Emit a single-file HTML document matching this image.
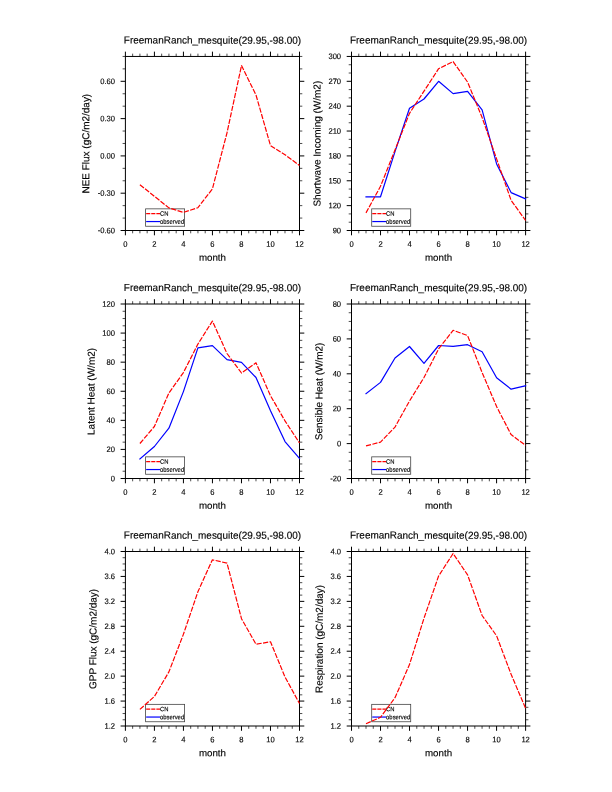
<!DOCTYPE html>
<html lang="en"><head><meta charset="utf-8"><title>FreemanRanch_mesquite</title>
<style>html,body{margin:0;padding:0;background:#fff}svg{display:block}text{font-family:"Liberation Sans",sans-serif;fill:#000;stroke:#000;stroke-width:.14px;text-rendering:geometricPrecision}.t{font-size:10.2px;text-anchor:middle}.x{font-size:10.0px;text-anchor:middle}.m{font-size:9.7px;text-anchor:middle}.k{font-size:7.9px}.l{font-size:6.3px}.fr{fill:none;stroke:#000;stroke-width:1}.mj{stroke:#000;stroke-width:1}.mn{stroke:#000;stroke-width:.7}.r{fill:none;stroke:#ff0000;stroke-width:1.2;stroke-dasharray:5.2 1.4;stroke-linejoin:round}.b{fill:none;stroke:#0000ff;stroke-width:1.2;stroke-linejoin:round;stroke-linecap:square}</style></head><body>
<svg width="612" height="792" viewBox="0 0 612 792">
<rect width="612" height="792" fill="#fff"/>
<g>
<text class="t" transform="translate(212.45 43.65) rotate(.1) scale(0.978 1)">FreemanRanch_mesquite(29.95,-98.00)</text>
<rect x="145.60" y="208.85" width="39.0" height="17.4" fill="#fff" stroke="#444" stroke-width=".8"/>
<path class="r" style="stroke-dasharray:4.1 1" d="M146.15 213.70h13.9"/>
<path class="b" d="M146.75 221.55h12.7"/>
<text class="l" transform="translate(160.00 215.80) rotate(.1) scale(0.932 1)">CN</text>
<text class="l" transform="translate(160.00 223.75) rotate(.1) scale(0.932 1)">observed</text>
<rect class="fr" x="125.40" y="56.45" width="174.10" height="174.05"/>
<path class="mj" d="M125.40 230.50v4.8M125.40 56.45v-4.8M154.42 230.50v4.8M154.42 56.45v-4.8M183.43 230.50v4.8M183.43 56.45v-4.8M212.45 230.50v4.8M212.45 56.45v-4.8M241.47 230.50v4.8M241.47 56.45v-4.8M270.48 230.50v4.8M270.48 56.45v-4.8M299.50 230.50v4.8M299.50 56.45v-4.8M125.40 230.50h-4.8M299.50 230.50h4.8M125.40 193.20h-4.8M299.50 193.20h4.8M125.40 155.91h-4.8M299.50 155.91h4.8M125.40 118.61h-4.8M299.50 118.61h4.8M125.40 81.31h-4.8M299.50 81.31h4.8"/>
<path class="mn" d="M132.65 230.50v2.8M132.65 56.45v-2.8M139.91 230.50v2.8M139.91 56.45v-2.8M147.16 230.50v2.8M147.16 56.45v-2.8M161.67 230.50v2.8M161.67 56.45v-2.8M168.93 230.50v2.8M168.93 56.45v-2.8M176.18 230.50v2.8M176.18 56.45v-2.8M190.69 230.50v2.8M190.69 56.45v-2.8M197.94 230.50v2.8M197.94 56.45v-2.8M205.20 230.50v2.8M205.20 56.45v-2.8M219.70 230.50v2.8M219.70 56.45v-2.8M226.96 230.50v2.8M226.96 56.45v-2.8M234.21 230.50v2.8M234.21 56.45v-2.8M248.72 230.50v2.8M248.72 56.45v-2.8M255.97 230.50v2.8M255.97 56.45v-2.8M263.23 230.50v2.8M263.23 56.45v-2.8M277.74 230.50v2.8M277.74 56.45v-2.8M284.99 230.50v2.8M284.99 56.45v-2.8M292.25 230.50v2.8M292.25 56.45v-2.8M125.40 218.07h-2.8M299.50 218.07h2.8M125.40 205.64h-2.8M299.50 205.64h2.8M125.40 180.77h-2.8M299.50 180.77h2.8M125.40 168.34h-2.8M299.50 168.34h2.8M125.40 143.47h-2.8M299.50 143.47h2.8M125.40 131.04h-2.8M299.50 131.04h2.8M125.40 106.18h-2.8M299.50 106.18h2.8M125.40 93.75h-2.8M299.50 93.75h2.8M125.40 68.88h-2.8M299.50 68.88h2.8M125.40 56.45h-2.8M299.50 56.45h2.8"/>
<g class="k" text-anchor="end">
<text transform="translate(115.00 233.15) rotate(.1) scale(0.962 1)">-0.60</text>
<text transform="translate(115.00 195.85) rotate(.1) scale(0.962 1)">-0.30</text>
<text transform="translate(115.00 158.56) rotate(.1) scale(0.962 1)">0.00</text>
<text transform="translate(115.00 121.26) rotate(.1) scale(0.962 1)">0.30</text>
<text transform="translate(115.00 83.96) rotate(.1) scale(0.962 1)">0.60</text>
</g>
<g class="k" text-anchor="middle">
<text transform="translate(125.40 246.70) rotate(.1) scale(0.962 1)">0</text>
<text transform="translate(154.42 246.70) rotate(.1) scale(0.962 1)">2</text>
<text transform="translate(183.43 246.70) rotate(.1) scale(0.962 1)">4</text>
<text transform="translate(212.45 246.70) rotate(.1) scale(0.962 1)">6</text>
<text transform="translate(241.47 246.70) rotate(.1) scale(0.962 1)">8</text>
<text transform="translate(270.48 246.70) rotate(.1) scale(0.962 1)">10</text>
<text transform="translate(299.50 246.70) rotate(.1) scale(0.962 1)">12</text>
</g>
<text class="m" transform="translate(212.45 260.85) rotate(.1) scale(1.005 1)">month</text>
<text class="x" transform="translate(89.30 143.67) rotate(-89.9) scale(0.997 1)">NEE Flux (gC/m2/day)</text>
<path class="r" d="M139.9 184.7L154.4 196.3L168.9 207.9L183.4 212.4L197.9 207.7L212.4 188.9L227.0 132.8L241.5 65.6L256.0 95.0L270.5 145.6L285.0 154.7L299.5 165.5"/>
</g>
<g>
<text class="t" transform="translate(438.55 43.65) rotate(.1) scale(0.978 1)">FreemanRanch_mesquite(29.95,-98.00)</text>
<rect x="371.70" y="208.85" width="39.0" height="17.4" fill="#fff" stroke="#444" stroke-width=".8"/>
<path class="r" style="stroke-dasharray:4.1 1" d="M372.25 213.70h13.9"/>
<path class="b" d="M372.85 221.55h12.7"/>
<text class="l" transform="translate(386.10 215.80) rotate(.1) scale(0.932 1)">CN</text>
<text class="l" transform="translate(386.10 223.75) rotate(.1) scale(0.932 1)">observed</text>
<rect class="fr" x="351.50" y="56.45" width="174.10" height="174.05"/>
<path class="mj" d="M351.50 230.50v4.8M351.50 56.45v-4.8M380.52 230.50v4.8M380.52 56.45v-4.8M409.53 230.50v4.8M409.53 56.45v-4.8M438.55 230.50v4.8M438.55 56.45v-4.8M467.57 230.50v4.8M467.57 56.45v-4.8M496.58 230.50v4.8M496.58 56.45v-4.8M525.60 230.50v4.8M525.60 56.45v-4.8M351.50 230.50h-4.8M525.60 230.50h4.8M351.50 205.64h-4.8M525.60 205.64h4.8M351.50 180.77h-4.8M525.60 180.77h4.8M351.50 155.91h-4.8M525.60 155.91h4.8M351.50 131.04h-4.8M525.60 131.04h4.8M351.50 106.18h-4.8M525.60 106.18h4.8M351.50 81.31h-4.8M525.60 81.31h4.8M351.50 56.45h-4.8M525.60 56.45h4.8"/>
<path class="mn" d="M358.75 230.50v2.8M358.75 56.45v-2.8M366.01 230.50v2.8M366.01 56.45v-2.8M373.26 230.50v2.8M373.26 56.45v-2.8M387.77 230.50v2.8M387.77 56.45v-2.8M395.02 230.50v2.8M395.02 56.45v-2.8M402.28 230.50v2.8M402.28 56.45v-2.8M416.79 230.50v2.8M416.79 56.45v-2.8M424.04 230.50v2.8M424.04 56.45v-2.8M431.30 230.50v2.8M431.30 56.45v-2.8M445.80 230.50v2.8M445.80 56.45v-2.8M453.06 230.50v2.8M453.06 56.45v-2.8M460.31 230.50v2.8M460.31 56.45v-2.8M474.82 230.50v2.8M474.82 56.45v-2.8M482.07 230.50v2.8M482.07 56.45v-2.8M489.33 230.50v2.8M489.33 56.45v-2.8M503.84 230.50v2.8M503.84 56.45v-2.8M511.09 230.50v2.8M511.09 56.45v-2.8M518.35 230.50v2.8M518.35 56.45v-2.8M351.50 222.21h-2.8M525.60 222.21h2.8M351.50 213.92h-2.8M525.60 213.92h2.8M351.50 197.35h-2.8M525.60 197.35h2.8M351.50 189.06h-2.8M525.60 189.06h2.8M351.50 172.48h-2.8M525.60 172.48h2.8M351.50 164.20h-2.8M525.60 164.20h2.8M351.50 147.62h-2.8M525.60 147.62h2.8M351.50 139.33h-2.8M525.60 139.33h2.8M351.50 122.75h-2.8M525.60 122.75h2.8M351.50 114.47h-2.8M525.60 114.47h2.8M351.50 97.89h-2.8M525.60 97.89h2.8M351.50 89.60h-2.8M525.60 89.60h2.8M351.50 73.03h-2.8M525.60 73.03h2.8M351.50 64.74h-2.8M525.60 64.74h2.8"/>
<g class="k" text-anchor="end">
<text transform="translate(341.10 233.15) rotate(.1) scale(0.962 1)">90</text>
<text transform="translate(341.10 208.29) rotate(.1) scale(0.962 1)">120</text>
<text transform="translate(341.10 183.42) rotate(.1) scale(0.962 1)">150</text>
<text transform="translate(341.10 158.56) rotate(.1) scale(0.962 1)">180</text>
<text transform="translate(341.10 133.69) rotate(.1) scale(0.962 1)">210</text>
<text transform="translate(341.10 108.83) rotate(.1) scale(0.962 1)">240</text>
<text transform="translate(341.10 83.96) rotate(.1) scale(0.962 1)">270</text>
<text transform="translate(341.10 59.10) rotate(.1) scale(0.962 1)">300</text>
</g>
<g class="k" text-anchor="middle">
<text transform="translate(351.50 246.70) rotate(.1) scale(0.962 1)">0</text>
<text transform="translate(380.52 246.70) rotate(.1) scale(0.962 1)">2</text>
<text transform="translate(409.53 246.70) rotate(.1) scale(0.962 1)">4</text>
<text transform="translate(438.55 246.70) rotate(.1) scale(0.962 1)">6</text>
<text transform="translate(467.57 246.70) rotate(.1) scale(0.962 1)">8</text>
<text transform="translate(496.58 246.70) rotate(.1) scale(0.962 1)">10</text>
<text transform="translate(525.60 246.70) rotate(.1) scale(0.962 1)">12</text>
</g>
<text class="m" transform="translate(438.55 260.85) rotate(.1) scale(1.005 1)">month</text>
<text class="x" transform="translate(320.50 143.67) rotate(-89.9) scale(0.997 1)">Shortwave Incoming (W/m2)</text>
<path class="b" d="M366.0 196.8L380.5 196.8L395.0 151.6L409.5 108.3L424.0 99.0L438.6 81.3L453.1 93.6L467.6 91.4L482.1 109.8L496.6 163.9L511.1 192.6L525.6 198.9"/>
<path class="r" d="M366.0 212.9L380.5 186.3L395.0 150.0L409.5 113.3L424.0 91.2L438.6 68.7L453.1 61.6L467.6 82.1L482.1 117.5L496.6 158.9L511.1 200.3L525.6 220.5"/>
</g>
<g>
<text class="t" transform="translate(212.45 291.20) rotate(.1) scale(0.978 1)">FreemanRanch_mesquite(29.95,-98.00)</text>
<rect x="145.60" y="456.85" width="39.0" height="17.4" fill="#fff" stroke="#444" stroke-width=".8"/>
<path class="r" style="stroke-dasharray:4.1 1" d="M146.15 461.70h13.9"/>
<path class="b" d="M146.75 469.55h12.7"/>
<text class="l" transform="translate(160.00 463.80) rotate(.1) scale(0.932 1)">CN</text>
<text class="l" transform="translate(160.00 471.75) rotate(.1) scale(0.932 1)">observed</text>
<rect class="fr" x="125.40" y="304.00" width="174.10" height="174.50"/>
<path class="mj" d="M125.40 478.50v4.8M125.40 304.00v-4.8M154.42 478.50v4.8M154.42 304.00v-4.8M183.43 478.50v4.8M183.43 304.00v-4.8M212.45 478.50v4.8M212.45 304.00v-4.8M241.47 478.50v4.8M241.47 304.00v-4.8M270.48 478.50v4.8M270.48 304.00v-4.8M299.50 478.50v4.8M299.50 304.00v-4.8M125.40 478.50h-4.8M299.50 478.50h4.8M125.40 449.42h-4.8M299.50 449.42h4.8M125.40 420.33h-4.8M299.50 420.33h4.8M125.40 391.25h-4.8M299.50 391.25h4.8M125.40 362.17h-4.8M299.50 362.17h4.8M125.40 333.08h-4.8M299.50 333.08h4.8M125.40 304.00h-4.8M299.50 304.00h4.8"/>
<path class="mn" d="M132.65 478.50v2.8M132.65 304.00v-2.8M139.91 478.50v2.8M139.91 304.00v-2.8M147.16 478.50v2.8M147.16 304.00v-2.8M161.67 478.50v2.8M161.67 304.00v-2.8M168.93 478.50v2.8M168.93 304.00v-2.8M176.18 478.50v2.8M176.18 304.00v-2.8M190.69 478.50v2.8M190.69 304.00v-2.8M197.94 478.50v2.8M197.94 304.00v-2.8M205.20 478.50v2.8M205.20 304.00v-2.8M219.70 478.50v2.8M219.70 304.00v-2.8M226.96 478.50v2.8M226.96 304.00v-2.8M234.21 478.50v2.8M234.21 304.00v-2.8M248.72 478.50v2.8M248.72 304.00v-2.8M255.97 478.50v2.8M255.97 304.00v-2.8M263.23 478.50v2.8M263.23 304.00v-2.8M277.74 478.50v2.8M277.74 304.00v-2.8M284.99 478.50v2.8M284.99 304.00v-2.8M292.25 478.50v2.8M292.25 304.00v-2.8M125.40 471.23h-2.8M299.50 471.23h2.8M125.40 463.96h-2.8M299.50 463.96h2.8M125.40 456.69h-2.8M299.50 456.69h2.8M125.40 442.15h-2.8M299.50 442.15h2.8M125.40 434.88h-2.8M299.50 434.88h2.8M125.40 427.60h-2.8M299.50 427.60h2.8M125.40 413.06h-2.8M299.50 413.06h2.8M125.40 405.79h-2.8M299.50 405.79h2.8M125.40 398.52h-2.8M299.50 398.52h2.8M125.40 383.98h-2.8M299.50 383.98h2.8M125.40 376.71h-2.8M299.50 376.71h2.8M125.40 369.44h-2.8M299.50 369.44h2.8M125.40 354.90h-2.8M299.50 354.90h2.8M125.40 347.62h-2.8M299.50 347.62h2.8M125.40 340.35h-2.8M299.50 340.35h2.8M125.40 325.81h-2.8M299.50 325.81h2.8M125.40 318.54h-2.8M299.50 318.54h2.8M125.40 311.27h-2.8M299.50 311.27h2.8"/>
<g class="k" text-anchor="end">
<text transform="translate(115.00 481.15) rotate(.1) scale(0.962 1)">0</text>
<text transform="translate(115.00 452.07) rotate(.1) scale(0.962 1)">20</text>
<text transform="translate(115.00 422.98) rotate(.1) scale(0.962 1)">40</text>
<text transform="translate(115.00 393.90) rotate(.1) scale(0.962 1)">60</text>
<text transform="translate(115.00 364.82) rotate(.1) scale(0.962 1)">80</text>
<text transform="translate(115.00 335.73) rotate(.1) scale(0.962 1)">100</text>
<text transform="translate(115.00 306.65) rotate(.1) scale(0.962 1)">120</text>
</g>
<g class="k" text-anchor="middle">
<text transform="translate(125.40 494.70) rotate(.1) scale(0.962 1)">0</text>
<text transform="translate(154.42 494.70) rotate(.1) scale(0.962 1)">2</text>
<text transform="translate(183.43 494.70) rotate(.1) scale(0.962 1)">4</text>
<text transform="translate(212.45 494.70) rotate(.1) scale(0.962 1)">6</text>
<text transform="translate(241.47 494.70) rotate(.1) scale(0.962 1)">8</text>
<text transform="translate(270.48 494.70) rotate(.1) scale(0.962 1)">10</text>
<text transform="translate(299.50 494.70) rotate(.1) scale(0.962 1)">12</text>
</g>
<text class="m" transform="translate(212.45 508.85) rotate(.1) scale(1.005 1)">month</text>
<text class="x" transform="translate(94.60 391.45) rotate(-89.9) scale(0.997 1)">Latent Heat (W/m2)</text>
<path class="b" d="M139.9 459.0L154.4 446.5L168.9 428.2L183.4 391.6L197.9 347.9L212.4 345.6L227.0 359.6L241.5 362.3L256.0 377.5L270.5 410.7L285.0 441.6L299.5 458.4"/>
<path class="r" d="M139.9 443.5L154.4 426.5L168.9 393.0L183.4 372.6L197.9 344.1L212.4 321.1L227.0 353.5L241.5 373.0L256.0 362.8L270.5 395.7L285.0 420.9L299.5 443.0"/>
</g>
<g>
<text class="t" transform="translate(438.55 291.20) rotate(.1) scale(0.978 1)">FreemanRanch_mesquite(29.95,-98.00)</text>
<rect x="371.70" y="456.85" width="39.0" height="17.4" fill="#fff" stroke="#444" stroke-width=".8"/>
<path class="r" style="stroke-dasharray:4.1 1" d="M372.25 461.70h13.9"/>
<path class="b" d="M372.85 469.55h12.7"/>
<text class="l" transform="translate(386.10 463.80) rotate(.1) scale(0.932 1)">CN</text>
<text class="l" transform="translate(386.10 471.75) rotate(.1) scale(0.932 1)">observed</text>
<rect class="fr" x="351.50" y="304.00" width="174.10" height="174.50"/>
<path class="mj" d="M351.50 478.50v4.8M351.50 304.00v-4.8M380.52 478.50v4.8M380.52 304.00v-4.8M409.53 478.50v4.8M409.53 304.00v-4.8M438.55 478.50v4.8M438.55 304.00v-4.8M467.57 478.50v4.8M467.57 304.00v-4.8M496.58 478.50v4.8M496.58 304.00v-4.8M525.60 478.50v4.8M525.60 304.00v-4.8M351.50 478.50h-4.8M525.60 478.50h4.8M351.50 443.60h-4.8M525.60 443.60h4.8M351.50 408.70h-4.8M525.60 408.70h4.8M351.50 373.80h-4.8M525.60 373.80h4.8M351.50 338.90h-4.8M525.60 338.90h4.8M351.50 304.00h-4.8M525.60 304.00h4.8"/>
<path class="mn" d="M358.75 478.50v2.8M358.75 304.00v-2.8M366.01 478.50v2.8M366.01 304.00v-2.8M373.26 478.50v2.8M373.26 304.00v-2.8M387.77 478.50v2.8M387.77 304.00v-2.8M395.02 478.50v2.8M395.02 304.00v-2.8M402.28 478.50v2.8M402.28 304.00v-2.8M416.79 478.50v2.8M416.79 304.00v-2.8M424.04 478.50v2.8M424.04 304.00v-2.8M431.30 478.50v2.8M431.30 304.00v-2.8M445.80 478.50v2.8M445.80 304.00v-2.8M453.06 478.50v2.8M453.06 304.00v-2.8M460.31 478.50v2.8M460.31 304.00v-2.8M474.82 478.50v2.8M474.82 304.00v-2.8M482.07 478.50v2.8M482.07 304.00v-2.8M489.33 478.50v2.8M489.33 304.00v-2.8M503.84 478.50v2.8M503.84 304.00v-2.8M511.09 478.50v2.8M511.09 304.00v-2.8M518.35 478.50v2.8M518.35 304.00v-2.8M351.50 469.77h-2.8M525.60 469.77h2.8M351.50 461.05h-2.8M525.60 461.05h2.8M351.50 452.32h-2.8M525.60 452.32h2.8M351.50 434.88h-2.8M525.60 434.88h2.8M351.50 426.15h-2.8M525.60 426.15h2.8M351.50 417.43h-2.8M525.60 417.43h2.8M351.50 399.98h-2.8M525.60 399.98h2.8M351.50 391.25h-2.8M525.60 391.25h2.8M351.50 382.52h-2.8M525.60 382.52h2.8M351.50 365.07h-2.8M525.60 365.07h2.8M351.50 356.35h-2.8M525.60 356.35h2.8M351.50 347.62h-2.8M525.60 347.62h2.8M351.50 330.18h-2.8M525.60 330.18h2.8M351.50 321.45h-2.8M525.60 321.45h2.8M351.50 312.73h-2.8M525.60 312.73h2.8"/>
<g class="k" text-anchor="end">
<text transform="translate(341.10 481.15) rotate(.1) scale(0.962 1)">-20</text>
<text transform="translate(341.10 446.25) rotate(.1) scale(0.962 1)">0</text>
<text transform="translate(341.10 411.35) rotate(.1) scale(0.962 1)">20</text>
<text transform="translate(341.10 376.45) rotate(.1) scale(0.962 1)">40</text>
<text transform="translate(341.10 341.55) rotate(.1) scale(0.962 1)">60</text>
<text transform="translate(341.10 306.65) rotate(.1) scale(0.962 1)">80</text>
</g>
<g class="k" text-anchor="middle">
<text transform="translate(351.50 494.70) rotate(.1) scale(0.962 1)">0</text>
<text transform="translate(380.52 494.70) rotate(.1) scale(0.962 1)">2</text>
<text transform="translate(409.53 494.70) rotate(.1) scale(0.962 1)">4</text>
<text transform="translate(438.55 494.70) rotate(.1) scale(0.962 1)">6</text>
<text transform="translate(467.57 494.70) rotate(.1) scale(0.962 1)">8</text>
<text transform="translate(496.58 494.70) rotate(.1) scale(0.962 1)">10</text>
<text transform="translate(525.60 494.70) rotate(.1) scale(0.962 1)">12</text>
</g>
<text class="m" transform="translate(438.55 508.85) rotate(.1) scale(1.005 1)">month</text>
<text class="x" transform="translate(322.40 391.45) rotate(-89.9) scale(0.997 1)">Sensible Heat (W/m2)</text>
<path class="b" d="M366.0 393.7L380.5 382.4L395.0 358.0L409.5 346.5L424.0 363.3L438.6 345.5L453.1 346.4L467.6 344.7L482.1 351.7L496.6 377.8L511.1 389.2L525.6 385.8"/>
<path class="r" d="M366.0 445.9L380.5 442.1L395.0 427.1L409.5 401.0L424.0 377.5L438.6 348.9L453.1 330.3L467.6 335.6L482.1 372.5L496.6 406.6L511.1 434.6L525.6 445.4"/>
</g>
<g>
<text class="t" transform="translate(212.45 538.70) rotate(.1) scale(0.978 1)">FreemanRanch_mesquite(29.95,-98.00)</text>
<rect x="145.60" y="704.35" width="39.0" height="17.4" fill="#fff" stroke="#444" stroke-width=".8"/>
<path class="r" style="stroke-dasharray:4.1 1" d="M146.15 709.20h13.9"/>
<path class="b" d="M146.75 717.05h12.7"/>
<text class="l" transform="translate(160.00 711.30) rotate(.1) scale(0.932 1)">CN</text>
<text class="l" transform="translate(160.00 719.25) rotate(.1) scale(0.932 1)">observed</text>
<rect class="fr" x="125.40" y="551.50" width="174.10" height="174.50"/>
<path class="mj" d="M125.40 726.00v4.8M125.40 551.50v-4.8M154.42 726.00v4.8M154.42 551.50v-4.8M183.43 726.00v4.8M183.43 551.50v-4.8M212.45 726.00v4.8M212.45 551.50v-4.8M241.47 726.00v4.8M241.47 551.50v-4.8M270.48 726.00v4.8M270.48 551.50v-4.8M299.50 726.00v4.8M299.50 551.50v-4.8M125.40 726.00h-4.8M299.50 726.00h4.8M125.40 701.07h-4.8M299.50 701.07h4.8M125.40 676.14h-4.8M299.50 676.14h4.8M125.40 651.21h-4.8M299.50 651.21h4.8M125.40 626.29h-4.8M299.50 626.29h4.8M125.40 601.36h-4.8M299.50 601.36h4.8M125.40 576.43h-4.8M299.50 576.43h4.8M125.40 551.50h-4.8M299.50 551.50h4.8"/>
<path class="mn" d="M132.65 726.00v2.8M132.65 551.50v-2.8M139.91 726.00v2.8M139.91 551.50v-2.8M147.16 726.00v2.8M147.16 551.50v-2.8M161.67 726.00v2.8M161.67 551.50v-2.8M168.93 726.00v2.8M168.93 551.50v-2.8M176.18 726.00v2.8M176.18 551.50v-2.8M190.69 726.00v2.8M190.69 551.50v-2.8M197.94 726.00v2.8M197.94 551.50v-2.8M205.20 726.00v2.8M205.20 551.50v-2.8M219.70 726.00v2.8M219.70 551.50v-2.8M226.96 726.00v2.8M226.96 551.50v-2.8M234.21 726.00v2.8M234.21 551.50v-2.8M248.72 726.00v2.8M248.72 551.50v-2.8M255.97 726.00v2.8M255.97 551.50v-2.8M263.23 726.00v2.8M263.23 551.50v-2.8M277.74 726.00v2.8M277.74 551.50v-2.8M284.99 726.00v2.8M284.99 551.50v-2.8M292.25 726.00v2.8M292.25 551.50v-2.8M125.40 719.77h-2.8M299.50 719.77h2.8M125.40 713.54h-2.8M299.50 713.54h2.8M125.40 707.30h-2.8M299.50 707.30h2.8M125.40 694.84h-2.8M299.50 694.84h2.8M125.40 688.61h-2.8M299.50 688.61h2.8M125.40 682.38h-2.8M299.50 682.38h2.8M125.40 669.91h-2.8M299.50 669.91h2.8M125.40 663.68h-2.8M299.50 663.68h2.8M125.40 657.45h-2.8M299.50 657.45h2.8M125.40 644.98h-2.8M299.50 644.98h2.8M125.40 638.75h-2.8M299.50 638.75h2.8M125.40 632.52h-2.8M299.50 632.52h2.8M125.40 620.05h-2.8M299.50 620.05h2.8M125.40 613.82h-2.8M299.50 613.82h2.8M125.40 607.59h-2.8M299.50 607.59h2.8M125.40 595.12h-2.8M299.50 595.12h2.8M125.40 588.89h-2.8M299.50 588.89h2.8M125.40 582.66h-2.8M299.50 582.66h2.8M125.40 570.20h-2.8M299.50 570.20h2.8M125.40 563.96h-2.8M299.50 563.96h2.8M125.40 557.73h-2.8M299.50 557.73h2.8"/>
<g class="k" text-anchor="end">
<text transform="translate(115.00 728.65) rotate(.1) scale(0.962 1)">1.2</text>
<text transform="translate(115.00 703.72) rotate(.1) scale(0.962 1)">1.6</text>
<text transform="translate(115.00 678.79) rotate(.1) scale(0.962 1)">2.0</text>
<text transform="translate(115.00 653.86) rotate(.1) scale(0.962 1)">2.4</text>
<text transform="translate(115.00 628.94) rotate(.1) scale(0.962 1)">2.8</text>
<text transform="translate(115.00 604.01) rotate(.1) scale(0.962 1)">3.2</text>
<text transform="translate(115.00 579.08) rotate(.1) scale(0.962 1)">3.6</text>
<text transform="translate(115.00 554.15) rotate(.1) scale(0.962 1)">4.0</text>
</g>
<g class="k" text-anchor="middle">
<text transform="translate(125.40 742.20) rotate(.1) scale(0.962 1)">0</text>
<text transform="translate(154.42 742.20) rotate(.1) scale(0.962 1)">2</text>
<text transform="translate(183.43 742.20) rotate(.1) scale(0.962 1)">4</text>
<text transform="translate(212.45 742.20) rotate(.1) scale(0.962 1)">6</text>
<text transform="translate(241.47 742.20) rotate(.1) scale(0.962 1)">8</text>
<text transform="translate(270.48 742.20) rotate(.1) scale(0.962 1)">10</text>
<text transform="translate(299.50 742.20) rotate(.1) scale(0.962 1)">12</text>
</g>
<text class="m" transform="translate(212.45 756.35) rotate(.1) scale(1.005 1)">month</text>
<text class="x" transform="translate(96.40 638.95) rotate(-89.9) scale(0.997 1)">GPP Flux (gC/m2/day)</text>
<path class="r" d="M139.9 709.4L154.4 696.5L168.9 671.9L183.4 634.3L197.9 591.8L212.4 559.8L227.0 563.1L241.5 618.7L256.0 644.2L270.5 641.8L285.0 677.0L299.5 703.5"/>
</g>
<g>
<text class="t" transform="translate(438.55 538.70) rotate(.1) scale(0.978 1)">FreemanRanch_mesquite(29.95,-98.00)</text>
<rect x="371.70" y="704.35" width="39.0" height="17.4" fill="#fff" stroke="#444" stroke-width=".8"/>
<path class="r" style="stroke-dasharray:4.1 1" d="M372.25 709.20h13.9"/>
<path class="b" d="M372.85 717.05h12.7"/>
<text class="l" transform="translate(386.10 711.30) rotate(.1) scale(0.932 1)">CN</text>
<text class="l" transform="translate(386.10 719.25) rotate(.1) scale(0.932 1)">observed</text>
<rect class="fr" x="351.50" y="551.50" width="174.10" height="174.50"/>
<path class="mj" d="M351.50 726.00v4.8M351.50 551.50v-4.8M380.52 726.00v4.8M380.52 551.50v-4.8M409.53 726.00v4.8M409.53 551.50v-4.8M438.55 726.00v4.8M438.55 551.50v-4.8M467.57 726.00v4.8M467.57 551.50v-4.8M496.58 726.00v4.8M496.58 551.50v-4.8M525.60 726.00v4.8M525.60 551.50v-4.8M351.50 726.00h-4.8M525.60 726.00h4.8M351.50 701.07h-4.8M525.60 701.07h4.8M351.50 676.14h-4.8M525.60 676.14h4.8M351.50 651.21h-4.8M525.60 651.21h4.8M351.50 626.29h-4.8M525.60 626.29h4.8M351.50 601.36h-4.8M525.60 601.36h4.8M351.50 576.43h-4.8M525.60 576.43h4.8M351.50 551.50h-4.8M525.60 551.50h4.8"/>
<path class="mn" d="M358.75 726.00v2.8M358.75 551.50v-2.8M366.01 726.00v2.8M366.01 551.50v-2.8M373.26 726.00v2.8M373.26 551.50v-2.8M387.77 726.00v2.8M387.77 551.50v-2.8M395.02 726.00v2.8M395.02 551.50v-2.8M402.28 726.00v2.8M402.28 551.50v-2.8M416.79 726.00v2.8M416.79 551.50v-2.8M424.04 726.00v2.8M424.04 551.50v-2.8M431.30 726.00v2.8M431.30 551.50v-2.8M445.80 726.00v2.8M445.80 551.50v-2.8M453.06 726.00v2.8M453.06 551.50v-2.8M460.31 726.00v2.8M460.31 551.50v-2.8M474.82 726.00v2.8M474.82 551.50v-2.8M482.07 726.00v2.8M482.07 551.50v-2.8M489.33 726.00v2.8M489.33 551.50v-2.8M503.84 726.00v2.8M503.84 551.50v-2.8M511.09 726.00v2.8M511.09 551.50v-2.8M518.35 726.00v2.8M518.35 551.50v-2.8M351.50 719.77h-2.8M525.60 719.77h2.8M351.50 713.54h-2.8M525.60 713.54h2.8M351.50 707.30h-2.8M525.60 707.30h2.8M351.50 694.84h-2.8M525.60 694.84h2.8M351.50 688.61h-2.8M525.60 688.61h2.8M351.50 682.38h-2.8M525.60 682.38h2.8M351.50 669.91h-2.8M525.60 669.91h2.8M351.50 663.68h-2.8M525.60 663.68h2.8M351.50 657.45h-2.8M525.60 657.45h2.8M351.50 644.98h-2.8M525.60 644.98h2.8M351.50 638.75h-2.8M525.60 638.75h2.8M351.50 632.52h-2.8M525.60 632.52h2.8M351.50 620.05h-2.8M525.60 620.05h2.8M351.50 613.82h-2.8M525.60 613.82h2.8M351.50 607.59h-2.8M525.60 607.59h2.8M351.50 595.12h-2.8M525.60 595.12h2.8M351.50 588.89h-2.8M525.60 588.89h2.8M351.50 582.66h-2.8M525.60 582.66h2.8M351.50 570.20h-2.8M525.60 570.20h2.8M351.50 563.96h-2.8M525.60 563.96h2.8M351.50 557.73h-2.8M525.60 557.73h2.8"/>
<g class="k" text-anchor="end">
<text transform="translate(341.10 728.65) rotate(.1) scale(0.962 1)">1.2</text>
<text transform="translate(341.10 703.72) rotate(.1) scale(0.962 1)">1.6</text>
<text transform="translate(341.10 678.79) rotate(.1) scale(0.962 1)">2.0</text>
<text transform="translate(341.10 653.86) rotate(.1) scale(0.962 1)">2.4</text>
<text transform="translate(341.10 628.94) rotate(.1) scale(0.962 1)">2.8</text>
<text transform="translate(341.10 604.01) rotate(.1) scale(0.962 1)">3.2</text>
<text transform="translate(341.10 579.08) rotate(.1) scale(0.962 1)">3.6</text>
<text transform="translate(341.10 554.15) rotate(.1) scale(0.962 1)">4.0</text>
</g>
<g class="k" text-anchor="middle">
<text transform="translate(351.50 742.20) rotate(.1) scale(0.962 1)">0</text>
<text transform="translate(380.52 742.20) rotate(.1) scale(0.962 1)">2</text>
<text transform="translate(409.53 742.20) rotate(.1) scale(0.962 1)">4</text>
<text transform="translate(438.55 742.20) rotate(.1) scale(0.962 1)">6</text>
<text transform="translate(467.57 742.20) rotate(.1) scale(0.962 1)">8</text>
<text transform="translate(496.58 742.20) rotate(.1) scale(0.962 1)">10</text>
<text transform="translate(525.60 742.20) rotate(.1) scale(0.962 1)">12</text>
</g>
<text class="m" transform="translate(438.55 756.35) rotate(.1) scale(1.005 1)">month</text>
<text class="x" transform="translate(322.70 638.95) rotate(-89.9) scale(0.997 1)">Respiration (gC/m2/day)</text>
<path class="r" d="M366.0 723.7L380.5 717.3L395.0 697.7L409.5 664.6L424.0 618.2L438.6 576.0L453.1 553.5L467.6 574.9L482.1 615.5L496.6 635.8L511.1 674.3L525.6 708.4"/>
</g>
</svg></body></html>
